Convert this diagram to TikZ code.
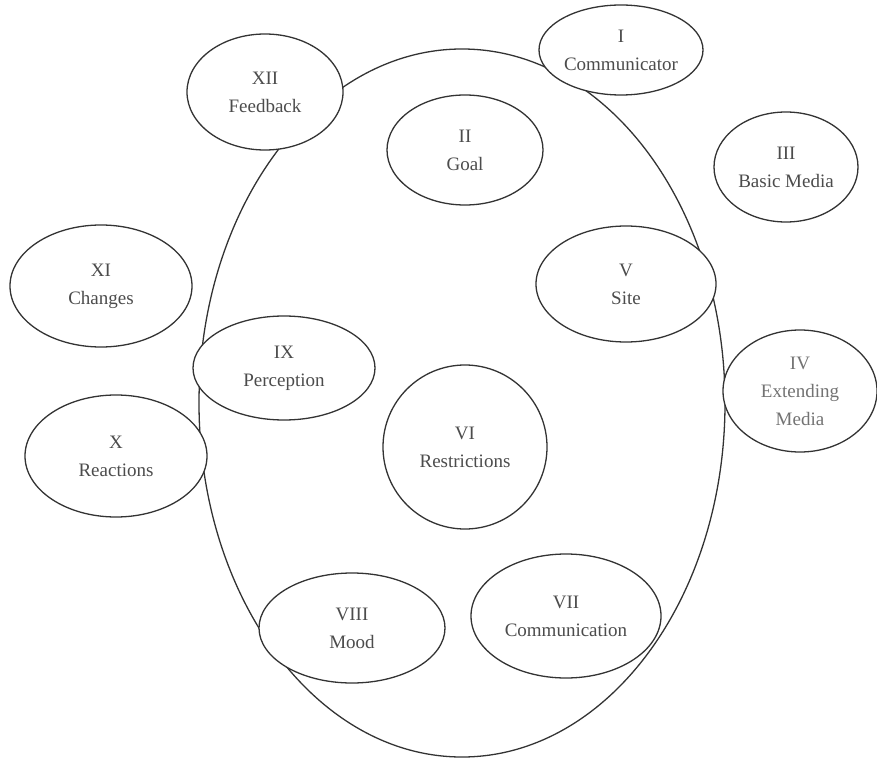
\documentclass[tikz,border=0pt]{standalone}
\usepackage{fontspec}
\setmainfont{Liberation Serif}
\usetikzlibrary{shapes.geometric}

\begin{document}
\begin{tikzpicture}[
  x=1pt, y=-1pt,
  font=\fontsize{19}{28}\selectfont,
  frame/.style = {draw=black!80, ellipse, line width=1.3pt, inner sep=0pt},
  bub/.style   = {draw=black!80, ellipse, fill=white, align=center,
                  line width=1.3pt, inner sep=0pt, text=black!70},
]
\useasboundingbox (0,0) rectangle (877,759);

%% ==== the enclosing oval, drawn first so the bubbles sit on top ==========
\node[frame, minimum width=526pt, minimum height=708pt] (oval) at (462,403) {};

%% ==== top row ============================================================
\node[bub, minimum width=164pt, minimum height=90pt]  (n1)  at (621,50)
  {I\\Communicator};
\node[bub, minimum width=156pt, minimum height=116pt] (n12) at (265,92)
  {XII\\Feedback};
\node[bub, minimum width=156pt, minimum height=110pt] (n2)  at (465,150)
  {II\\Goal};
\node[bub, minimum width=144pt, minimum height=110pt] (n3)  at (786,167)
  {III\\Basic Media};

%% ==== middle band ========================================================
\node[bub, minimum width=182pt, minimum height=122pt] (n11) at (101,286)
  {XI\\Changes};
\node[bub, minimum width=180pt, minimum height=116pt] (n5)  at (626,284)
  {V\\Site};
\node[bub, minimum width=182pt, minimum height=104pt] (n9)  at (284,368)
  {IX\\Perception};
\node[bub, minimum width=154pt, minimum height=122pt, text=black!55] (n4)
  at (800,391) {IV\\Extending\\Media};
\node[bub, minimum width=182pt, minimum height=122pt] (n10) at (116,456)
  {X\\Reactions};
\node[bub, minimum width=164pt, minimum height=164pt] (n6)  at (465,447)
  {VI\\Restrictions};

%% ==== bottom row =========================================================
\node[bub, minimum width=186pt, minimum height=110pt] (n8)  at (352,628)
  {VIII\\Mood};
\node[bub, minimum width=190pt, minimum height=124pt] (n7)  at (566,616)
  {VII\\Communication};

\end{tikzpicture}
\end{document}
